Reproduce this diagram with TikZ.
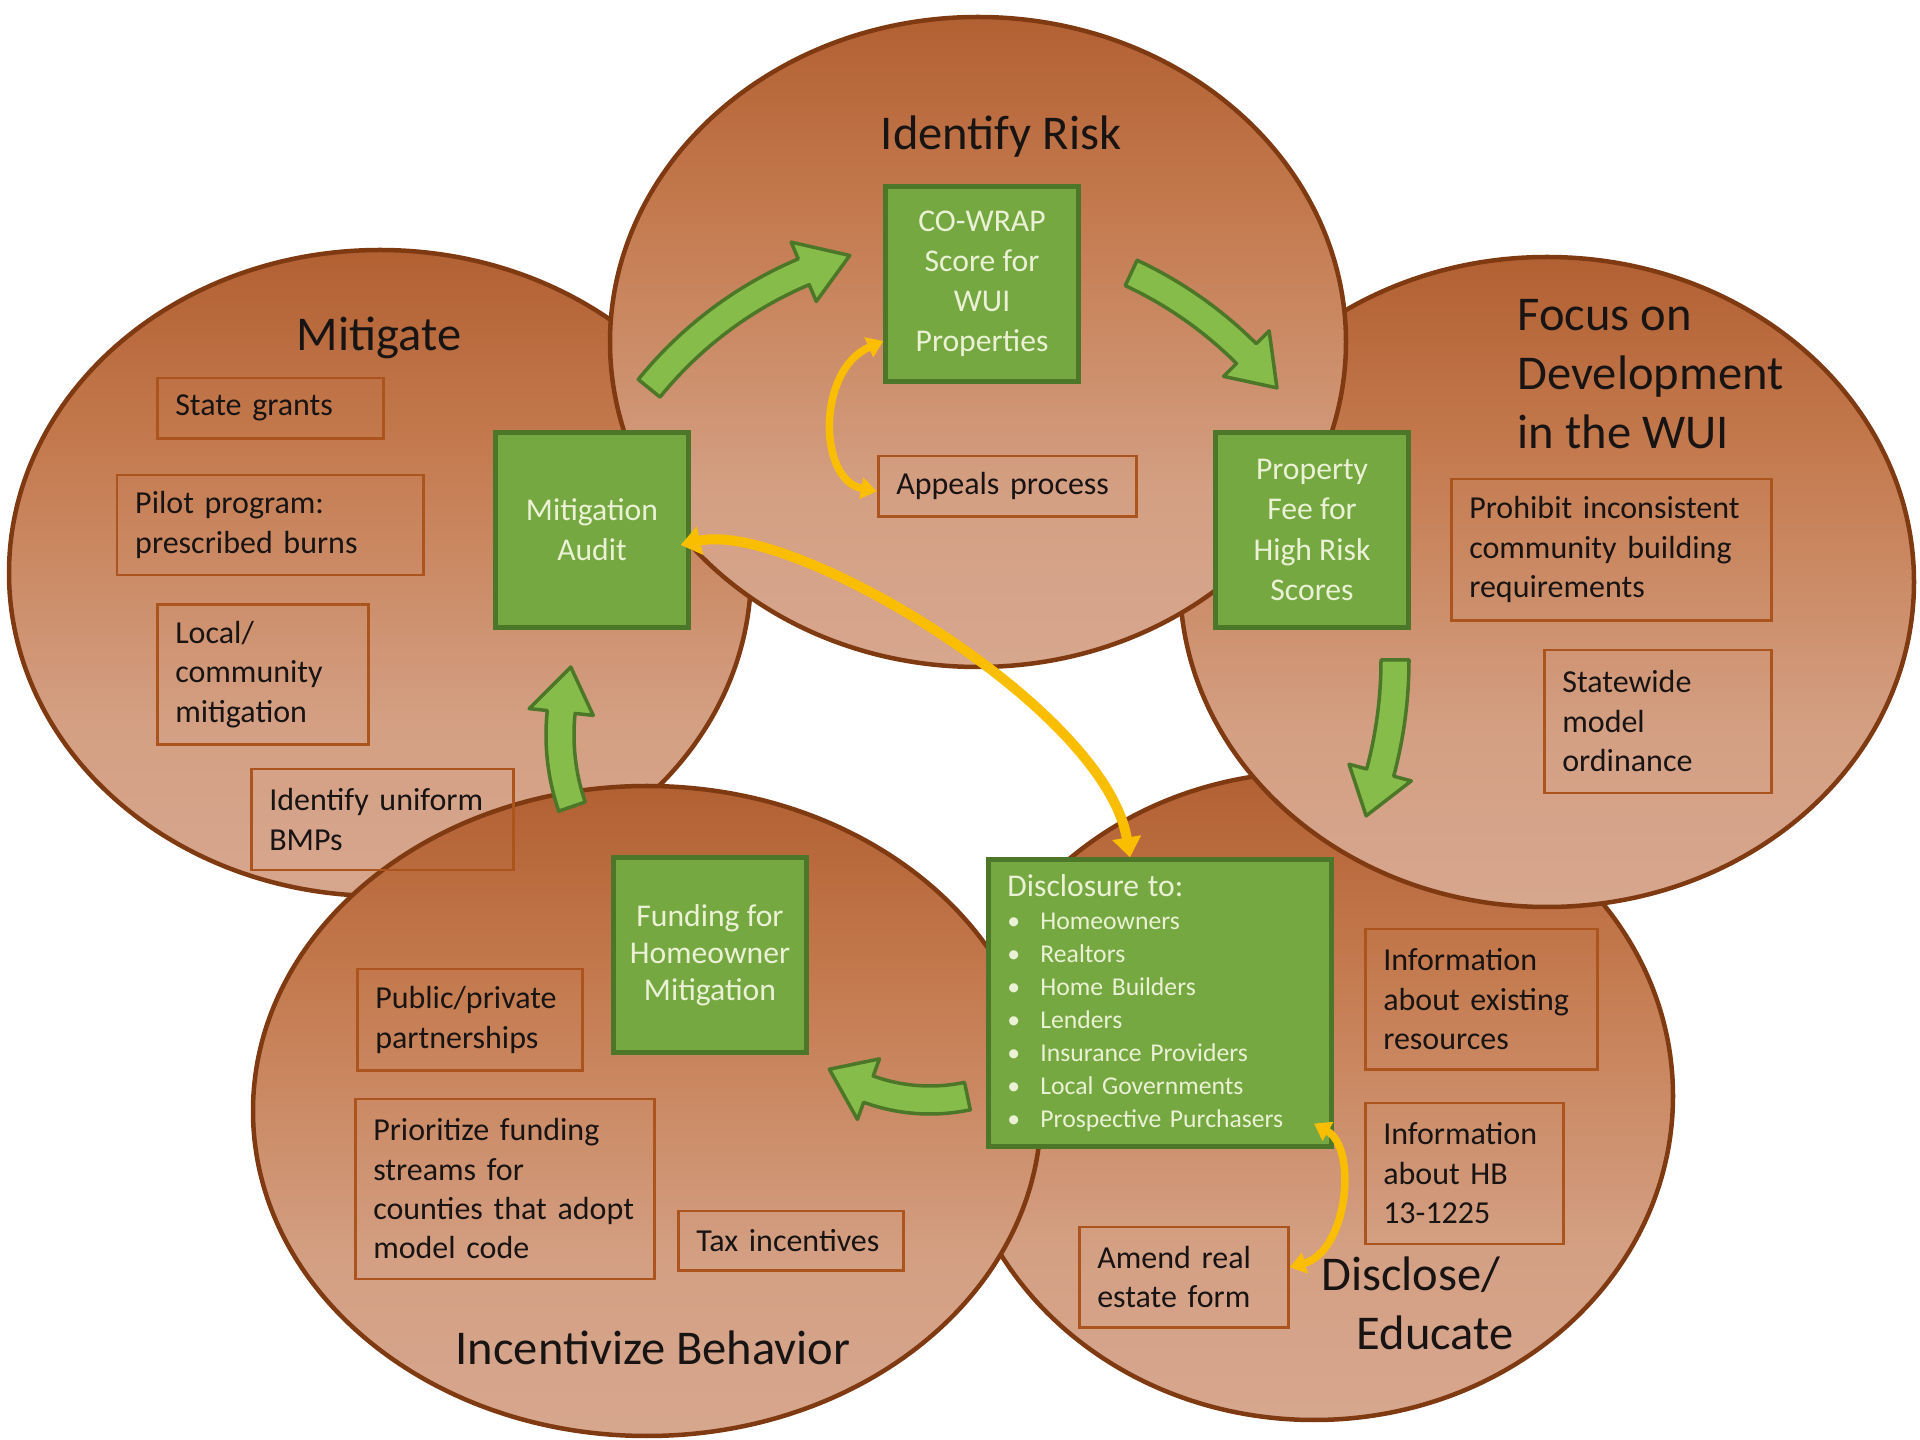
\documentclass[tikz,border=0pt]{standalone}
\usepackage{fontspec}
\setmainfont{Carlito}
\usepackage{xcolor}
\usetikzlibrary{arrows.meta, positioning}

\definecolor{rimbrown}{RGB}{128,58,18}
\definecolor{tandark}{RGB}{158,74,28}
\definecolor{tanrust}{RGB}{172,88,42}
\definecolor{tanwarm}{RGB}{196,122,78}
\definecolor{tanmid}{RGB}{212,160,132}
\definecolor{tanlight}{RGB}{218,178,160}
\definecolor{boxgreen}{RGB}{118,168,66}
\definecolor{arrowgreen}{RGB}{134,188,74}
\definecolor{darkgreen}{RGB}{76,118,40}
\definecolor{palegreen}{RGB}{234,241,212}
\definecolor{noteline}{RGB}{172,84,30}
\definecolor{ink}{RGB}{25,20,20}
\definecolor{gold}{RGB}{250,190,0}

\pgfdeclareverticalshading{tan}{100bp}{color(0bp)=(tanlight); color(38bp)=(tanmid);
  color(60bp)=(tanwarm); color(80bp)=(tanrust); color(100bp)=(tandark)}

\tikzset{
  lobe/.style={shade, shading=tan, draw=rimbrown, line width=0.045cm},
  lobetitle/.style={font=\fontsize{13.8}{16.8}\selectfont, text=ink, inner sep=0pt},
  greenbox/.style={rectangle, draw=darkgreen, line width=0.05cm, fill=boxgreen,
                   text=palegreen, align=center, minimum width=1.92cm,
                   minimum height=1.94cm, inner sep=0pt, font=\fontsize{9}{11.4}\selectfont},
  notebox/.style={rectangle, draw=noteline, line width=0.025cm, text=ink, align=left,
                  inner xsep=0.18cm, inner ysep=0pt, anchor=north west,
                  font=\fontsize{9.1}{11.2}\selectfont},
  bentarrow/.style={fill=arrowgreen, draw=darkgreen, line width=0.035cm, line join=round},
  yarrow/.style={draw=gold, line width=0.1cm,
                 {Triangle[width=0.28cm,length=0.2cm]}-{Triangle[width=0.28cm,length=0.2cm]}},
  yarrowsmall/.style={draw=gold, line width=0.075cm,
                 {Triangle[width=0.21cm,length=0.16cm]}-{Triangle[width=0.21cm,length=0.16cm]}},
}

% curved block arrow: centre, radius, tail angle, head angle, tip angle, half width
\newcommand{\bentarrow}[6]{%
  \filldraw[bentarrow, shift={#1}]
    (#3:{#2+#6}) arc[start angle=#3, end angle=#4, radius={#2+#6}]
    -- (#4:{#2+2.3*#6}) -- (#5:#2) -- (#4:{#2-2.3*#6})
    -- (#4:{#2-#6}) arc[start angle=#4, end angle=#3, radius={#2-#6}] -- cycle;}
\newcommand{\dbullet}{\makebox[0.33cm][l]{\textbullet}}

\begin{document}
\begin{tikzpicture}[x=0.01cm, y=-0.01cm]
  \useasboundingbox (0,0) rectangle (1920,1440);
  \fill[white] (0,0) rectangle (1920,1440);

  % Lobes, back to front
  \draw[lobe] (1314,1096) ellipse [x radius=359, y radius=324];
  \draw[lobe] (380,573) ellipse [x radius=371, y radius=323];
  \draw[lobe] (647,1111) ellipse [x radius=394, y radius=325];
  \draw[lobe] (1547,582) ellipse [x radius=367, y radius=325];
  \draw[lobe] (978,342) ellipse [x radius=368, y radius=325];

  % Lobe titles
  \node[lobetitle, anchor=base] (riskttl) at (1001,150) {Identify Risk};
  \node[lobetitle, anchor=base] (mitttl) at (379,351) {Mitigate};
  \node[lobetitle, align=left, anchor=north west] (focusttl) at (1517,299)
    {Focus on\\Development\\in the WUI};
  \node[lobetitle, anchor=base] (incttl) at (653,1365) {Incentivize Behavior};
  \node[lobetitle, align=right, anchor=north east] (discttl) at (1514,1256)
    {Disclose/\kern0.13cm\\Educate};

  % Mitigate notes
  \node[notebox, text width=1.9cm, minimum height=0.6cm] (grants) at (156,377) {State grants};
  \node[notebox, text width=2.7cm, minimum height=1.0cm, below=0.34cm of grants.south west,
        anchor=north west, xshift=-0.4cm] (pilot) {Pilot program:\\prescribed burns};
  \node[notebox, text width=1.75cm, minimum height=1.4cm, below=0.27cm of pilot.south west,
        anchor=north west, xshift=0.4cm] (local) {Local/\\community\\mitigation};
  \node[notebox, text width=2.26cm, minimum height=1.01cm, below=0.22cm of local.south west,
        anchor=north west, xshift=0.94cm] (bmps) {Identify uniform\\BMPs};

  % Identify Risk note
  \node[notebox, text width=2.22cm, minimum height=0.6cm] (appeals) at (877,455) {Appeals process};

  % Focus notes
  \node[notebox, text width=2.84cm, minimum height=1.41cm] (prohibit) at (1450,478)
    {Prohibit inconsistent\\community building\\requirements};
  \node[notebox, text width=1.91cm, minimum height=1.43cm, below=0.27cm of prohibit.south east,
        anchor=north east] (statewide) {Statewide\\model\\ordinance};

  % Incentivize notes
  \node[notebox, text width=1.89cm, minimum height=1.01cm] (partners) at (356,968)
    {Public/private\\partnerships};
  \node[notebox, text width=2.63cm, minimum height=1.8cm, below=0.26cm of partners.south west,
        anchor=north west, xshift=-0.02cm] (prioritize)
    {Prioritize funding\\streams for\\counties that adopt\\model code};
  \node[notebox, text width=1.89cm, minimum height=0.59cm] (tax) at (677,1210) {Tax incentives};

  % Disclose notes
  \node[notebox, text width=1.96cm, minimum height=1.4cm] (infores) at (1364,928)
    {Information\\about existing\\resources};
  \node[notebox, text width=1.62cm, minimum height=1.41cm, below=0.31cm of infores.south west,
        anchor=north west] (infohb) {Information\\about HB\\13-1225};
  \node[notebox, text width=1.73cm, minimum height=1.0cm] (amend) at (1078,1226)
    {Amend real\\estate form};

  % Green action boxes
  \node[greenbox] (cowrap) at (982,284) {CO-WRAP\\Score for\\WUI\\Properties};
  \node[greenbox] (audit) at (592,530) {Mitigation\\Audit};
  \node[greenbox] (propfee) at (1312,530) {Property\\Fee for\\High Risk\\Scores};
  \node[greenbox, font=\fontsize{9}{10.5}\selectfont] (funding) at (710,955)
    {Funding for\\Homeowner\\Mitigation};
  \node[greenbox, minimum width=3.43cm, minimum height=2.86cm, align=left, text width=3.05cm,
        inner xsep=0.19cm, font=\fontsize{7.3}{9.4}\selectfont] (disc) at (1160,1003)
    {{\fontsize{9}{9.4}\selectfont Disclosure to:}\\
     \dbullet Homeowners\\
     \dbullet Realtors\\
     \dbullet Home Builders\\
     \dbullet Lenders\\
     \dbullet Insurance Providers\\
     \dbullet Local Governments\\
     \dbullet Prospective Purchasers};

  % Cycle arrows
  \bentarrow{(960,640)}{400}{-141}{-113}{-106}{14}
  \bentarrow{(960,640)}{405}{-65}{-45}{-38.5}{14}
  \bentarrow{(960,660)}{435}{0}{15}{21}{14}
  \bentarrow{(930,920)}{180}{78}{110}{124}{14}
  \bentarrow{(780,735)}{220}{161}{186}{198}{14}

  % Feedback links
  \draw[yarrow] ([xshift=-0.1cm, yshift=-0.15cm]audit.east)
    .. controls +(110,-25) and +(-25,-150) .. ([xshift=-0.3cm]disc.north);
  \draw[yarrowsmall] ([yshift=-0.05cm]appeals.west)
    .. controls +(-59,-11) and +(-67,29) .. ([yshift=-0.57cm]cowrap.west);
  \draw[yarrowsmall] ([yshift=0.1cm]amend.east)
    .. controls +(58,-16) and +(44,25) .. ([xshift=-0.2cm, yshift=0.25cm]disc.south east);
\end{tikzpicture}
\end{document}
